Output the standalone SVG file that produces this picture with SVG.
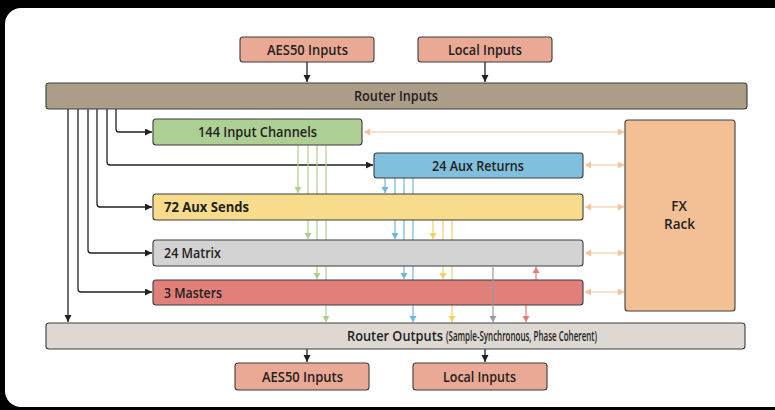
<svg xmlns="http://www.w3.org/2000/svg" width="775" height="410" viewBox="0 0 775 410">
<style>
.box{stroke:#3c3c3c;stroke-width:1.1}
.t{font-family:"Open Sans","Noto Sans",sans-serif;font-weight:600;font-size:13.5px;fill:#231f20}
.tb{font-weight:700}
.blk{fill:none;stroke:#231f20;stroke-width:1.3}
.g{fill:none;stroke:#a9d08e;stroke-width:1.2}
.b{fill:none;stroke:#6fb7da;stroke-width:1.2}
.y{fill:none;stroke:#f6cf63;stroke-width:1.2}
.gr{fill:none;stroke:#9a9a9a;stroke-width:1.2}
.r{fill:none;stroke:#e57c78;stroke-width:1.2}
.o{fill:none;stroke:#f5c299;stroke-width:1.2}
</style>
<defs>
<marker id="ak" markerUnits="userSpaceOnUse" markerWidth="8" markerHeight="8" refX="7" refY="3.5" orient="auto"><path d="M0,0L7,3.5L0,7z" fill="#231f20"/></marker>
<marker id="ag" markerUnits="userSpaceOnUse" markerWidth="8" markerHeight="8" refX="6" refY="3.5" orient="auto"><path d="M0,0L6,3.5L0,7z" fill="#a9d08e"/></marker>
<marker id="ab" markerUnits="userSpaceOnUse" markerWidth="8" markerHeight="8" refX="6" refY="3.5" orient="auto"><path d="M0,0L6,3.5L0,7z" fill="#6fb7da"/></marker>
<marker id="ay" markerUnits="userSpaceOnUse" markerWidth="8" markerHeight="8" refX="6" refY="3.5" orient="auto"><path d="M0,0L6,3.5L0,7z" fill="#f6cf63"/></marker>
<marker id="agr" markerUnits="userSpaceOnUse" markerWidth="8" markerHeight="8" refX="6" refY="3.5" orient="auto"><path d="M0,0L6,3.5L0,7z" fill="#9a9a9a"/></marker>
<marker id="ar" markerUnits="userSpaceOnUse" markerWidth="8" markerHeight="8" refX="6" refY="3.5" orient="auto"><path d="M0,0L6,3.5L0,7z" fill="#e57c78"/></marker>
<marker id="ao" markerUnits="userSpaceOnUse" markerWidth="8" markerHeight="8" refX="6" refY="3.5" orient="auto-start-reverse"><path d="M0,0L6,3.5L0,7z" fill="#f5c299"/></marker>
</defs>
<rect x="0" y="0" width="775" height="410" fill="#000"/>
<rect x="5" y="8" width="790" height="399" rx="16" fill="#fff"/>

<g id="connectors">
<path class="blk" d="M307,62V82" marker-end="url(#ak)"/>
<path class="blk" d="M485,62V82" marker-end="url(#ak)"/>
<path class="blk" d="M116,109V129Q116,132 119,132H152" marker-end="url(#ak)"/>
<path class="blk" d="M107,109V162Q107,165 110,165H373" marker-end="url(#ak)"/>
<path class="blk" d="M97,109V204Q97,207 100,207H152" marker-end="url(#ak)"/>
<path class="blk" d="M88,109V250Q88,253 91,253H152" marker-end="url(#ak)"/>
<path class="blk" d="M78,109V289Q78,292 81,292H152" marker-end="url(#ak)"/>
<path class="blk" d="M68,109V322" marker-end="url(#ak)"/>
<path class="blk" d="M307,349V362" marker-end="url(#ak)"/>
<path class="blk" d="M485,349V362" marker-end="url(#ak)"/>

<path class="g" d="M298,145V193" marker-end="url(#ag)"/>
<path class="g" d="M308,145V239" marker-end="url(#ag)"/>
<path class="g" d="M317,145V279" marker-end="url(#ag)"/>
<path class="g" d="M326,145V322" marker-end="url(#ag)"/>

<path class="b" d="M385,178V193" marker-end="url(#ab)"/>
<path class="b" d="M395,178V239" marker-end="url(#ab)"/>
<path class="b" d="M404,178V279" marker-end="url(#ab)"/>
<path class="b" d="M413,173V322" marker-end="url(#ab)"/>

<path class="y" d="M433,220V239" marker-end="url(#ay)"/>
<path class="y" d="M443,220V279" marker-end="url(#ay)"/>
<path class="y" d="M452,220V322" marker-end="url(#ay)"/>

<path class="r" d="M536,280V267" marker-end="url(#ar)"/>
<path class="r" d="M526,305V322" marker-end="url(#ar)"/>

<path class="o" d="M364,132H624" marker-start="url(#ao)" marker-end="url(#ao)"/>
<path class="o" d="M585,165H624" marker-start="url(#ao)" marker-end="url(#ao)"/>
<path class="o" d="M585,207H624" marker-start="url(#ao)" marker-end="url(#ao)"/>
<path class="o" d="M585,253H624" marker-start="url(#ao)" marker-end="url(#ao)"/>
<path class="o" d="M585,292H624" marker-start="url(#ao)" marker-end="url(#ao)"/>
</g>

<g id="aes50-in"><rect class="box" x="240" y="37" width="134" height="25" rx="3" fill="#eaa995"/><text class="t" x="267" y="54.5" textLength="81" lengthAdjust="spacingAndGlyphs">AES50 Inputs</text></g>
<g id="local-in"><rect class="box" x="418" y="37" width="134" height="25" rx="3" fill="#eaa995"/><text class="t" x="448" y="54.5" textLength="74" lengthAdjust="spacingAndGlyphs">Local Inputs</text></g>
<g id="router-inputs"><rect class="box" x="46" y="83" width="701" height="26" rx="3" fill="#ac9d89"/><text class="t" x="354" y="101" textLength="84" lengthAdjust="spacingAndGlyphs">Router Inputs</text></g>
<g id="input-channels"><rect class="box" x="153" y="119" width="209" height="26" rx="3" fill="#aecf94"/><text class="t" x="198" y="137" textLength="119" lengthAdjust="spacingAndGlyphs">144 Input Channels</text></g>
<g id="aux-returns"><rect class="box" x="374" y="153" width="209" height="25" rx="3" fill="#80bfdd"/><text class="t" x="432" y="170.5" textLength="92" lengthAdjust="spacingAndGlyphs">24 Aux Returns</text></g>
<g id="aux-sends"><rect class="box" x="153" y="194" width="430" height="26" rx="3" fill="#f7dc8c"/><text class="t tb" x="164" y="212" textLength="85" lengthAdjust="spacingAndGlyphs">72 Aux Sends</text></g>
<g id="matrix"><rect class="box" x="153" y="240" width="430" height="26" rx="3" fill="#d3d3d3"/><text class="t" x="164" y="258" textLength="57" lengthAdjust="spacingAndGlyphs">24 Matrix</text></g>
<g id="masters"><rect class="box" x="153" y="280" width="430" height="25" rx="3" fill="#e17f7b"/><text class="t" x="164" y="297.5" textLength="58" lengthAdjust="spacingAndGlyphs">3 Masters</text></g>
<path class="gr" d="M493,266V322" marker-end="url(#agr)"/>
<g id="fx-rack"><rect class="box" x="625" y="120" width="110" height="191" rx="3" fill="#f3c095"/><text class="t" x="679" y="211" font-size="12.5px" text-anchor="middle">FX</text><text class="t" x="679.5" y="228.5" font-size="12.5px" text-anchor="middle">Rack</text></g>
<g id="router-outputs"><rect class="box" x="46" y="323" width="699" height="26" rx="3" fill="#ded8d2"/><text class="t" x="347" y="341" font-size="15px" textLength="96" lengthAdjust="spacingAndGlyphs">Router Outputs</text><text class="t" x="446" y="340.5" font-size="8.5px" font-weight="400" textLength="151" lengthAdjust="spacingAndGlyphs">(Sample-Synchronous, Phase Coherent)</text></g>
<g id="aes50-out"><rect class="box" x="235" y="363" width="134" height="27" rx="3" fill="#eaa995"/><text class="t" x="262" y="381.5" textLength="81" lengthAdjust="spacingAndGlyphs">AES50 Inputs</text></g>
<g id="local-out"><rect class="box" x="413" y="363" width="134" height="27" rx="3" fill="#eaa995"/><text class="t" x="443" y="381.5" textLength="73" lengthAdjust="spacingAndGlyphs">Local Inputs</text></g>
</svg>
